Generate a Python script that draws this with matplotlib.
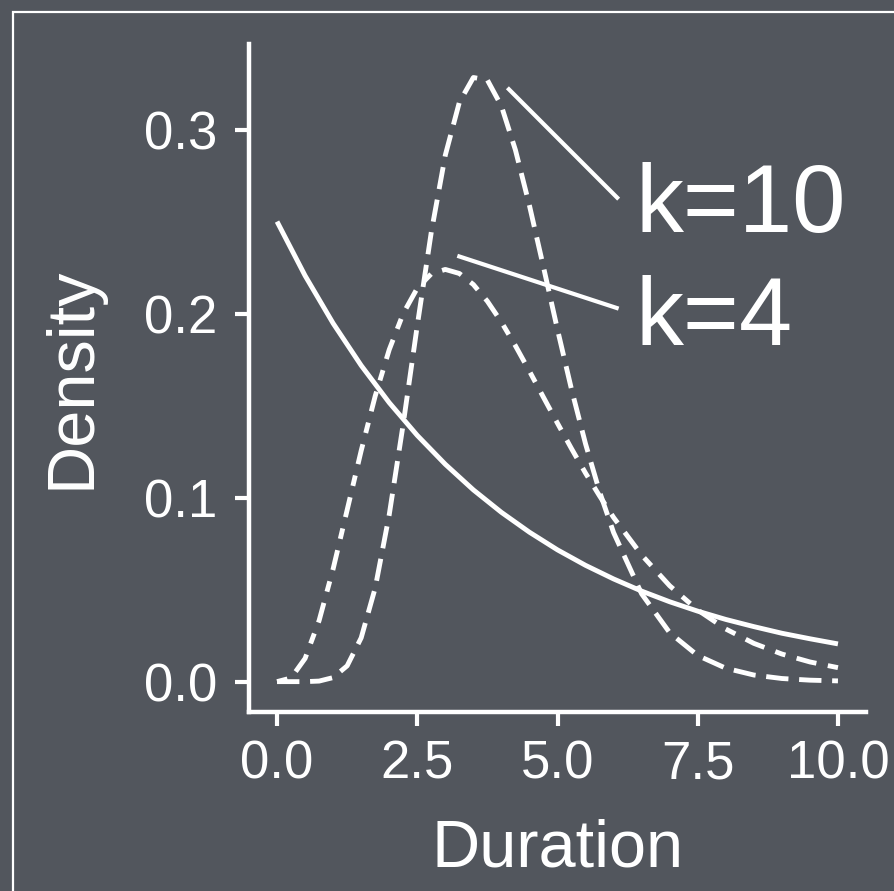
import matplotlib
matplotlib.use('Agg')
import matplotlib.pyplot as plt
from matplotlib.patches import Rectangle

# densities
duration_exp = [0.0, 0.5, 1.0, 1.5, 2.0, 2.5, 3.0, 3.5, 4.0, 4.5, 5.0,
                5.5, 6.0, 6.5, 7.0, 7.5, 8.0, 8.5, 9.0, 9.5, 10.0]
density_exp = [0.250, 0.2206, 0.1947, 0.1718, 0.1516, 0.1338, 0.1181, 0.1042,
               0.0920, 0.0812, 0.0716, 0.0632, 0.0558, 0.0492, 0.0434, 0.0383,
               0.0338, 0.0299, 0.0263, 0.0233, 0.0205]

duration_gam = [0.0, 0.25, 0.5, 0.75, 1.0, 1.25, 1.5, 1.75, 2.0, 2.25, 2.5,
                2.75, 3.0, 3.25, 3.5, 3.75, 4.0, 4.25, 4.5, 4.75, 5.0, 5.25,
                5.5, 5.75, 6.0, 6.5, 7.0, 7.5, 8.0, 8.5, 9.0, 9.5, 10.0]
density_k4 = [0.0, 0.0020, 0.0126, 0.0332, 0.0613, 0.0933, 0.1255, 0.1552,
              0.1804, 0.2001, 0.2138, 0.2216, 0.2240, 0.2218, 0.2158, 0.2067,
              0.1954, 0.1825, 0.1687, 0.1545, 0.1404, 0.1266, 0.1133, 0.1009,
              0.0892, 0.0688, 0.0521, 0.0389, 0.0286, 0.0208, 0.0150, 0.0107,
              0.0076]
density_k10 = [0.0, 0.0, 0.0000, 0.0003, 0.0022, 0.0086, 0.0238, 0.0509,
               0.0907, 0.1401, 0.1935, 0.2443, 0.2861, 0.3148, 0.3283, 0.3269,
               0.3128, 0.2889, 0.2587, 0.2253, 0.1913, 0.1588, 0.1292, 0.1032,
               0.0810, 0.0477, 0.0266, 0.0142, 0.0073, 0.0036, 0.0017, 0.0008,
               0.0004]

x_ticks = [0.0, 2.5, 5.0, 7.5, 10.0]
y_ticks = [0.0, 0.1, 0.2, 0.3]

bg = '#52565d'
fg = 'white'
plt.rcParams['font.family'] = ['Liberation Sans', 'DejaVu Sans']

fig = plt.figure(figsize=(8.94, 8.91), dpi=100, facecolor=bg)
ax = fig.add_axes([249/894, 1 - 712/891, 617/894, 668/891])
ax.set_facecolor(bg)

lw = 3.5
ax.plot(duration_exp, density_exp, color=fg, lw=lw, solid_capstyle='butt')
ax.plot(duration_gam, density_k4, color=fg, lw=lw, dashes=(2.2, 2.4, 4.2, 2.4), dash_capstyle='butt')
ax.plot(duration_gam, density_k10, color=fg, lw=lw, dashes=(4.6, 2.2), dash_capstyle='butt')

# labels with pointer lines
ax.plot([4.107, 6.09], [0.3227, 0.2622], color=fg, lw=3, solid_capstyle='butt')
ax.plot([3.214, 6.09], [0.2314, 0.2027], color=fg, lw=3, solid_capstyle='butt')
ax.text(6.39, 0.2443, 'k=10', color=fg, fontsize=69, ha='left', va='baseline')
ax.text(6.39, 0.1832, 'k=4', color=fg, fontsize=69, ha='left', va='baseline')

ax.set_xlim(-0.5, 10.5)
ax.set_ylim(-0.0165, 0.3465)
ax.set_xticks(x_ticks)
ax.set_xticklabels([f'{v:.1f}' for v in x_ticks])
ax.set_yticks(y_ticks)
ax.set_yticklabels([f'{v:.1f}' for v in y_ticks])

for side in ['top', 'right']:
    ax.spines[side].set_visible(False)
for side in ['left', 'bottom']:
    ax.spines[side].set_color(fg)
    ax.spines[side].set_linewidth(3.2)
ax.tick_params(colors=fg, width=3, length=10, labelsize=38)
ax.tick_params(axis='y', pad=13)
ax.tick_params(axis='x', pad=10)

ax.set_xlabel('Duration', color=fg, fontsize=48)
ax.set_ylabel('Density', color=fg, fontsize=48)
ax.xaxis.set_label_coords(0.5, -0.159)
ax.yaxis.set_label_coords(-0.2366, 0.5)

# outer panel border
fig.patches.append(Rectangle((13/894, -0.1), 1.2, 1 - 12/891 + 0.1,
                             transform=fig.transFigure, fill=False,
                             edgecolor=fg, lw=1.6))

fig.savefig('out.png', dpi=100, facecolor=bg)
